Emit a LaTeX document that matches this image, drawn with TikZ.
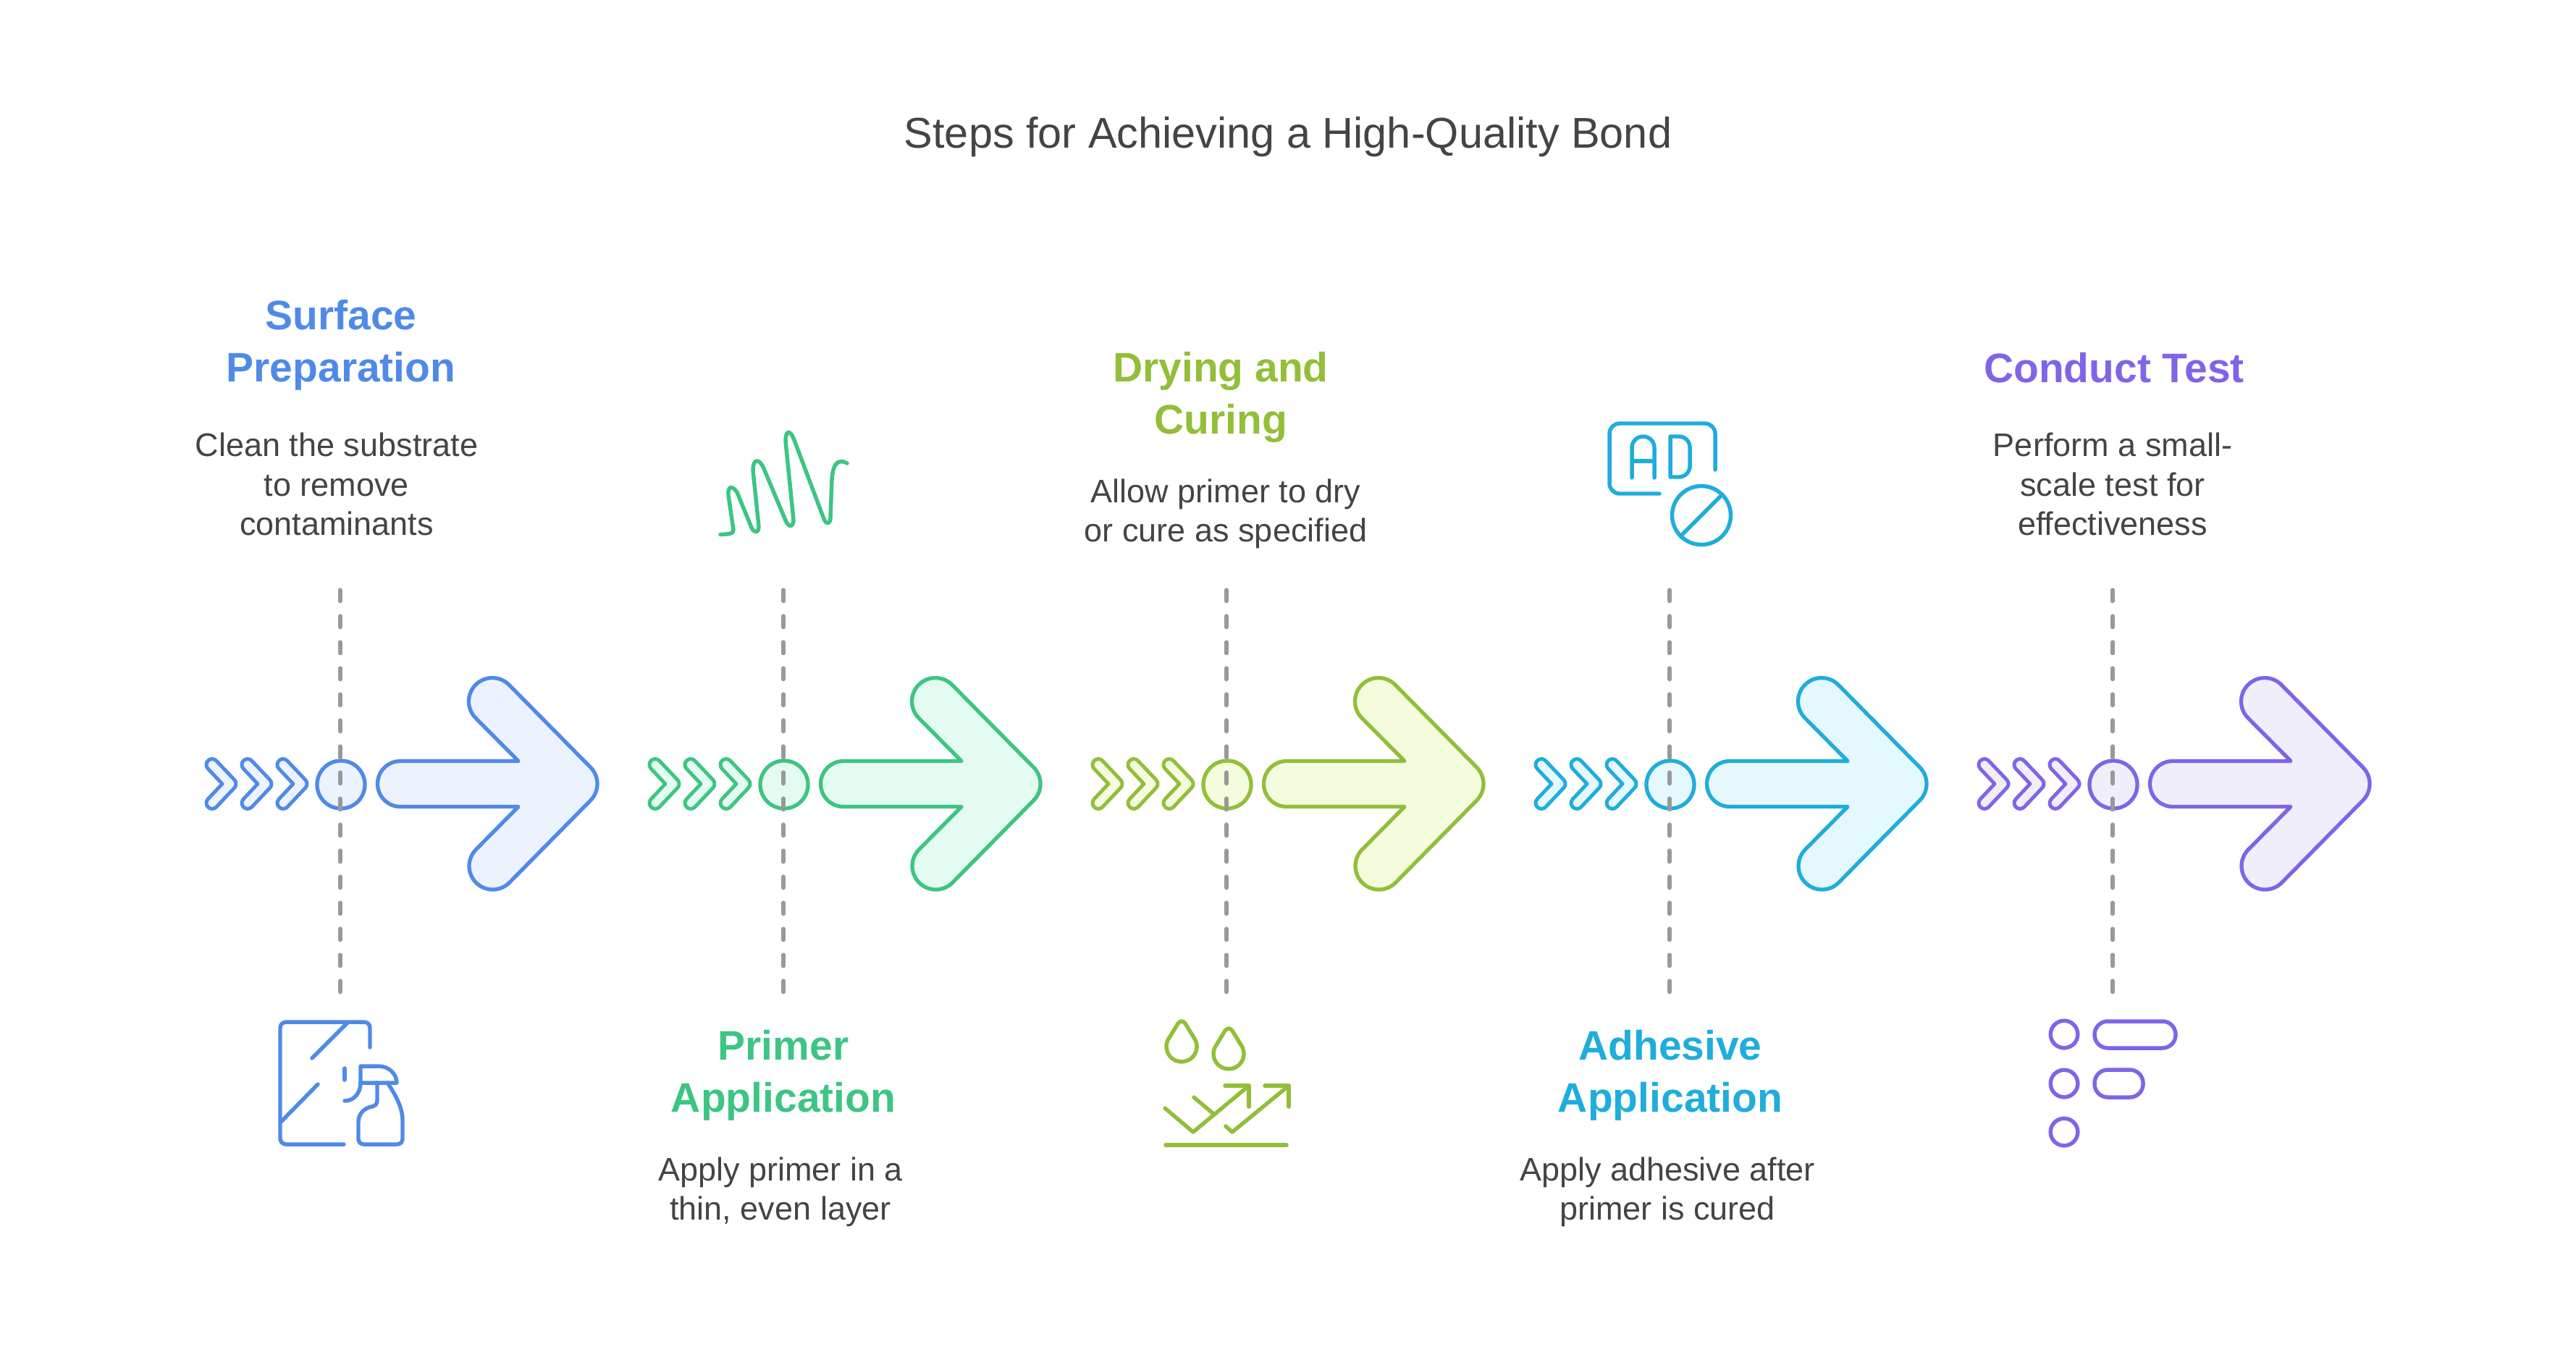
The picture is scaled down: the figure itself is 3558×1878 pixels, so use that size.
\documentclass[tikz,border=0pt]{standalone}
\usepackage{fontspec}
\setmainfont{Liberation Sans}
\usetikzlibrary{arrows}
\definecolor{inktext}{HTML}{444444}
\definecolor{guidegray}{HTML}{999999}
\definecolor{steelline}{HTML}{4F8AE8}
\definecolor{steeltint}{HTML}{EDF3FE}
\definecolor{mintline}{HTML}{3CC583}
\definecolor{minttint}{HTML}{E3FBF1}
\definecolor{limeline}{HTML}{93BE38}
\definecolor{limetint}{HTML}{F3FDDD}
\definecolor{skyline}{HTML}{1EADDC}
\definecolor{skytint}{HTML}{E5F8FE}
\definecolor{violetline}{HTML}{8064E8}
\definecolor{violettint}{HTML}{F1EEFC}
\tikzset{
      steelflow/.style={draw=steelline, fill=steeltint},
      mintflow/.style={draw=mintline, fill=minttint},
      limeflow/.style={draw=limeline, fill=limetint},
      skyflow/.style={draw=skyline, fill=skytint},
      violetflow/.style={draw=violetline, fill=violettint},
      hub/.style={circle, minimum size=0.66cm, inner sep=0, outer sep=0, line width=1.5pt},
      guide/.style={draw=guidegray, line width=1.55pt, line cap=round, dash pattern=on 4.41pt off 5.83pt},
      icon/.style={line width=1.55pt, line cap=round, line join=round},
      headline/.style={font=\fontsize{16.2}{20.5}\selectfont\bfseries, align=center},
      bodytext/.style={font=\fontsize{12.8}{15.5}\selectfont, align=center, text=inktext},
      chevron/.pic={
            \path[pic actions, line width=1.4pt, line join=round] (0,0) -- (-19.7,-20.8)
                  arc[start angle=135, end angle=315, radius=8] -- (16.7,-5.7)
                  arc[start angle=-45, end angle=45, radius=8] -- (-8.3,32.1)
                  arc[start angle=45, end angle=225, radius=8] -- cycle;
      },
      bigarrow/.pic={
            \path[pic actions, line width=1.5pt, line join=round] (85,-31.5) -- (248,-31.5) -- (189,-91)
                  arc[start angle=135, end angle=315, radius=32.5] -- (347.5,-23)
                  arc[start angle=-45, end angle=45, radius=32.5] -- (235.5,136.5)
                  arc[start angle=45, end angle=225, radius=32.5] -- (248,31.5) -- (85,31.5)
                  arc[start angle=90, end angle=270, radius=31.5] -- cycle;
      },
      drop/.pic={
            \draw[icon, draw=limeline] (-5,-32) -- (-19,-9)
                  arc[start angle=205, end angle=-25, radius=21] -- (5,-32)
                  .. controls (2,-36) and (-2,-36) .. (-5,-32) -- cycle;
      },
}

\begin{document}
\begin{tikzpicture}[x=0.01cm, y=-0.01cm]
        \useasboundingbox (0,0) rectangle (3558,1878);

        \node[font=\fontsize{16.9}{21}\selectfont, text=inktext] (title) at (1779,189) {Steps for Achieving a High-Quality Bond};

        % Flow arrows and chevrons
        \pic[steelflow] at (307,1083) {chevron};
        \pic[steelflow] at (356,1083) {chevron};
        \pic[steelflow] at (405,1083) {chevron};
        \pic[steelflow] at (468,1083) {bigarrow};

        \pic[mintflow] at (919,1083) {chevron};
        \pic[mintflow] at (968,1083) {chevron};
        \pic[mintflow] at (1017,1083) {chevron};
        \pic[mintflow] at (1080,1083) {bigarrow};

        \pic[limeflow] at (1531,1083) {chevron};
        \pic[limeflow] at (1580,1083) {chevron};
        \pic[limeflow] at (1629,1083) {chevron};
        \pic[limeflow] at (1692,1083) {bigarrow};

        \pic[skyflow] at (2143,1083) {chevron};
        \pic[skyflow] at (2192,1083) {chevron};
        \pic[skyflow] at (2241,1083) {chevron};
        \pic[skyflow] at (2304,1083) {bigarrow};

        \pic[violetflow] at (2755,1083) {chevron};
        \pic[violetflow] at (2804,1083) {chevron};
        \pic[violetflow] at (2853,1083) {chevron};
        \pic[violetflow] at (2916,1083) {bigarrow};

        % Hubs on the guide lines
        \node[hub, steelflow] (hubsurface) at (471,1084) {};
        \node[hub, mintflow] (hubprimer) at (1083,1084) {};
        \node[hub, limeflow] (hubdrying) at (1695,1084) {};
        \node[hub, skyflow] (hubadhesive) at (2307,1084) {};
        \node[hub, violetflow] (hubtest) at (2919,1084) {};

        % Guide lines
        \coordinate (topsurface) at (470,815);
        \coordinate (botsurface) at (470,1375);
        \coordinate (topprimer) at (1082,815);
        \coordinate (botprimer) at (1082,1375);
        \coordinate (topdrying) at (1694,815);
        \coordinate (botdrying) at (1694,1375);
        \coordinate (topadhesive) at (2306,815);
        \coordinate (botadhesive) at (2306,1375);
        \coordinate (toptest) at (2918,815);
        \coordinate (bottest) at (2918,1375);
        \draw[guide] (topsurface) -- (botsurface);
        \draw[guide] (topprimer) -- (botprimer);
        \draw[guide] (topdrying) -- (botdrying);
        \draw[guide] (topadhesive) -- (botadhesive);
        \draw[guide] (toptest) -- (bottest);

        % Labels
        \node[headline, text=steelline] (headsurface) at (471,477) {Surface\\Preparation};
        \node[bodytext] (textsurface) at (465,669) {Clean the substrate\\to remove\\contaminants};
        \node[headline, text=mintline] (headprimer) at (1082,1486) {Primer\\Application};
        \node[bodytext] (textprimer) at (1078,1647) {Apply primer in a\\thin, even layer};
        \node[headline, text=limeline] (headdrying) at (1686,549) {Drying and\\Curing};
        \node[bodytext] (textdrying) at (1693,710) {Allow primer to dry\\or cure as specified};
        \node[headline, text=skyline] (headadhesive) at (2307,1486) {Adhesive\\Application};
        \node[bodytext] (textadhesive) at (2303,1647) {Apply adhesive after\\primer is cured};
        \node[headline, text=violetline] (headtest) at (2920,508) {Conduct Test};
        \node[bodytext] (texttest) at (2918,669) {Perform a small-\\scale test for\\effectiveness};

        % Spray bottle and window
        \draw[icon, draw=steelline, rounded corners=2.3pt] (475,1581) -- (387,1581) -- (387,1412) -- (511,1412) -- (511,1447);
        \draw[icon, draw=steelline] (480,1413) -- (431,1462);
        \draw[icon, draw=steelline] (439,1498) -- (388,1550);
        \draw[icon, draw=steelline] (476,1476) -- (476,1492);
        \draw[icon, draw=steelline] (498,1473) -- (523,1473) .. controls (537,1473) and (548,1484) .. (548,1496) -- (498,1496) -- cycle;
        \draw[icon, draw=steelline] (498,1496) .. controls (498,1510) and (489,1521) .. (476,1521);
        \draw[icon, draw=steelline] (521,1496) -- (521,1520) .. controls (521,1526) and (518,1528) .. (513,1529)
              .. controls (503,1531) and (495,1539) .. (495,1550) -- (495,1573) .. controls (495,1578) and (498,1581) .. (503,1581)
              -- (548,1581) .. controls (553,1581) and (556,1578) .. (556,1573) -- (556,1547)
              .. controls (556,1530) and (545,1510) .. (535,1496);

        % Squiggle
        \draw[icon, draw=mintline] (995,738.5) .. controls (1004,738) and (1014,738) .. (1013,732) -- (1006,684)
              .. controls (1005,672) and (1011,670) .. (1018,680) -- (1038,729)
              .. controls (1042,737) and (1048,737) .. (1048,727) -- (1040,650)
              .. controls (1040,635) and (1047,632) .. (1054,645) -- (1085,719)
              .. controls (1089,729) and (1096,729) .. (1096,718) -- (1085,610)
              .. controls (1085,595) and (1091,592) .. (1097,608) -- (1138,717)
              .. controls (1141,725) and (1147,725) .. (1147,715) -- (1149,663)
              .. controls (1150,645) and (1155,632) .. (1170,640);

        % Drops and rising arrows
        \pic at (1632,1446) {drop};
        \pic at (1697,1456) {drop};
        \draw[icon, draw=limeline] (1609,1531) -- (1648,1564) -- (1725,1500);
        \draw[icon, draw=limeline] (1692,1500) -- (1725,1500) -- (1725,1529);
        \draw[icon, draw=limeline] (1649,1516) -- (1675,1538);
        \draw[icon, draw=limeline] (1693,1556) -- (1702,1564) -- (1780,1500);
        \draw[icon, draw=limeline] (1747,1500) -- (1780,1500) -- (1780,1529);
        \draw[icon, draw=limeline] (1610,1582) -- (1777,1582);

        % Blocked ad
        \draw[icon, draw=skyline, rounded corners=4pt] (2292,682) -- (2223,682) -- (2223,585) -- (2369,585) -- (2369,649);
        \draw[icon, draw=skyline] (2254,660) -- (2254,618.5) arc[start angle=180, end angle=360, radius=15.5] -- (2285,660);
        \draw[icon, draw=skyline] (2254,637) -- (2285,637);
        \draw[icon, draw=skyline] (2307,603) -- (2319,603) arc[start angle=-90, end angle=0, radius=15] -- (2334,644)
              arc[start angle=0, end angle=90, radius=15] -- (2307,659) -- cycle;
        \draw[icon, draw=skyline] (2350,712) circle[radius=40.5];
        \draw[icon, draw=skyline] (2321.4,740.6) -- (2378.6,683.4);

        % Bullets and pills
        \draw[icon, draw=violetline] (2851,1429) circle[radius=18.8];
        \draw[icon, draw=violetline] (2851,1497) circle[radius=18.8];
        \draw[icon, draw=violetline] (2851,1564) circle[radius=18.8];
        \draw[icon, draw=violetline, rounded corners=5.2pt] (2893,1411) rectangle (3005,1448);
        \draw[icon, draw=violetline, rounded corners=5.2pt] (2893,1478) rectangle (2960,1516);

    \end{tikzpicture}
\end{document}
